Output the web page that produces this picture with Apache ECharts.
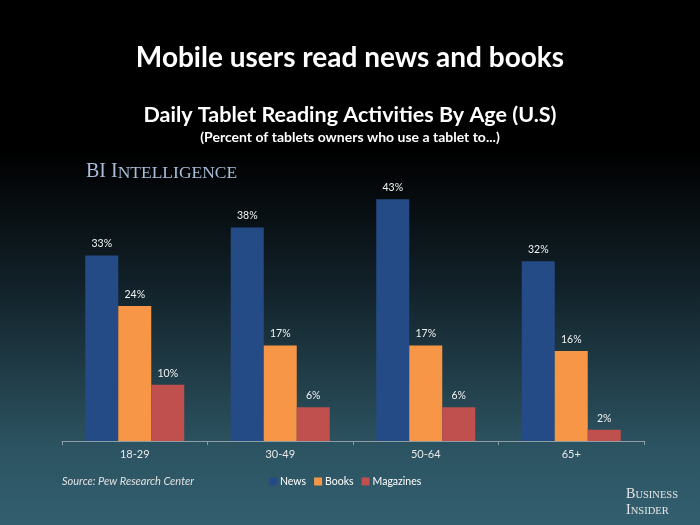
<!DOCTYPE html>
<html>
<head>
<meta charset="utf-8">
<script src="https://cdn.jsdelivr.net/npm/echarts@6/dist/echarts.min.js"></script>
<style>html,body{margin:0;padding:0;background:#000}#c{width:700px;height:525px}</style>
</head>
<body>
<div id="c"></div>
<script>
var categories = ['18-29', '30-49', '50-64', '65+'];
var news = [33, 38, 43, 32];
var books = [24, 17, 17, 16];
var magazines = [10, 6, 6, 2];
var seriesNames = ['News', 'Books', 'Magazines'];

var chart = echarts.init(document.getElementById('c'));
var F = 'Lato, "Open Sans", sans-serif';
function mkSeries(name, data, color) {
  return {
    name: name, type: 'bar', data: data, barWidth: 33, barGap: '0%',
    itemStyle: { color: color },
    label: { show: true, position: 'top', distance: 6, color: '#f2f2f2', fontSize: 10.5, fontFamily: F, formatter: '{c}%' }
  };
}
chart.setOption({
  animation: false,
  graphic: [
    { type: 'rect', z: -100, silent: true, shape: { x: 0, y: 0, width: 700, height: 525 },
      style: { fill: new echarts.graphic.LinearGradient(0, 0, 0, 1, [
        { offset: 0, color: '#000000' }, { offset: 0.29, color: '#000000' },
        { offset: 0.55, color: '#12222a' }, { offset: 0.85, color: '#2c5361' }, { offset: 1, color: '#325f6f' }]) } },
    { type: 'text', left: 'center', top: 44, style: { text: 'Mobile users read news and books', fill: '#ffffff', font: 'bold 28px ' + F } },
    { type: 'text', left: 'center', top: 104, style: { text: 'Daily Tablet Reading Activities By Age (U.S)', fill: '#ffffff', font: 'bold 21.5px ' + F } },
    { type: 'text', left: 'center', top: 130, style: { text: '(Percent of tablets owners who use a tablet to...)', fill: '#ffffff', font: 'bold 14px ' + F } },
    { type: 'text', left: 86, top: 162, style: { text: '{a|BI I}{b|NTELLIGENCE}',
      rich: { a: { fontSize: 20, fontFamily: '"Liberation Serif", serif', fill: '#a9bdd8', verticalAlign: 'bottom', lineHeight: 21 },
              b: { fontSize: 17.5, fontFamily: '"Liberation Serif", serif', fill: '#a9bdd8', verticalAlign: 'bottom', lineHeight: 21 } } } },
    { type: 'text', right: 22, top: 487, style: { text: '{a|B}{b|USINESS}\n{a|I}{b|NSIDER}', align: 'right',
      rich: { a: { fontSize: 14, fontFamily: '"Liberation Serif", serif', fill: '#e6e6e6', verticalAlign: 'bottom', lineHeight: 16 },
              b: { fontSize: 10.5, fontFamily: '"Liberation Serif", serif', fill: '#e6e6e6', verticalAlign: 'bottom', lineHeight: 16 } } } },
    { type: 'text', left: 62, top: 476, style: { text: 'Source: Pew Research Center', fill: '#e0e0e0', font: 'italic 11px ' + F } }
  ],
  legend: {
    data: seriesNames, left: 264, top: 471, itemWidth: 8, itemHeight: 8, itemGap: 8, icon: 'rect',
    textStyle: { color: '#ffffff', fontSize: 10.5, fontFamily: F, padding: [0, 0, 0, -2] }
  },
  grid: { left: 62, right: 56, top: 160, bottom: 84 },
  xAxis: {
    type: 'category', data: categories,
    axisLine: { lineStyle: { color: '#8d9ea6', width: 1 } },
    axisTick: { show: true, length: 4, lineStyle: { color: '#8d9ea6' } },
    axisLabel: { color: '#e8e8e8', fontSize: 11, fontFamily: F, margin: 8 }
  },
  yAxis: { type: 'value', min: 0, max: 50, show: false, splitLine: { show: false } },
  series: [
    mkSeries('News', news, '#244b86'),
    mkSeries('Books', books, '#f79646'),
    mkSeries('Magazines', magazines, '#c0504d')
  ]
});
</script>
</body>
</html>
